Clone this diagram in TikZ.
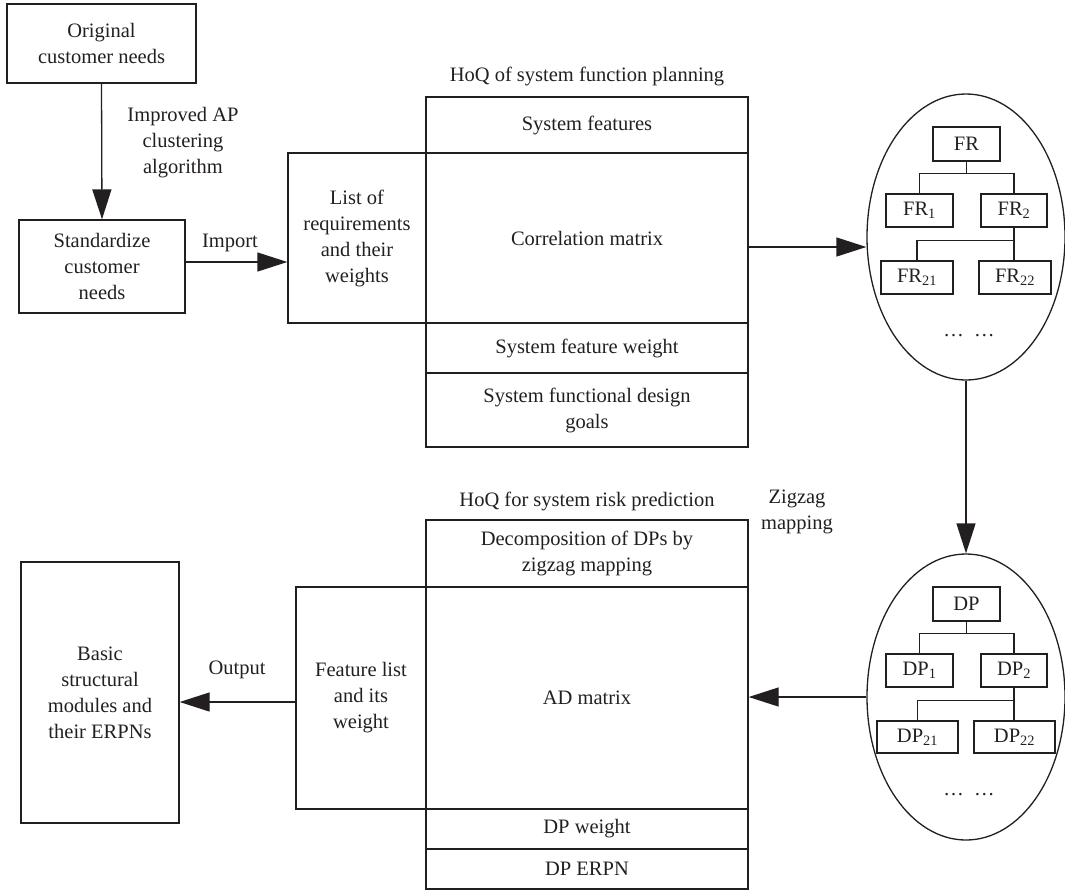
\documentclass[tikz,border=0pt]{standalone}
\usepackage{fontspec}
\setmainfont{Liberation Serif}
\usetikzlibrary{arrows.meta,shapes.geometric}
\definecolor{ink}{RGB}{35,31,32}
\begin{document}
\begin{tikzpicture}[x=1pt,y=-1pt,
  every node/.style={font=\fontsize{20.5}{26}\selectfont, text=ink},
  box/.style={draw=ink, line width=1.3pt, rectangle, align=center, inner sep=2pt},
  sbox/.style={box, minimum height=33pt},
  oval/.style={draw=ink, line width=1.3pt, ellipse, minimum width=198pt, minimum height=286pt, inner sep=0pt},
  link/.style={draw=ink, line width=1.3pt},
  arr/.style={link, -{Triangle[length=30pt,width=19pt]}},
  lbl/.style={align=center, inner sep=0pt}]
\useasboundingbox (0,0) rectangle (1065,892);

% input chain
\node[box, minimum width=189pt, minimum height=79pt] (orig) at (101.5,43.5) {Original\\customer needs};
\node[box, minimum width=166pt, minimum height=93pt] (std) at (102,266.5) {Standardize\\customer\\needs};
\node[lbl] (clu) at (183,143) {Improved AP\\clustering\\algorithm};

% HoQ of system function planning
\node[lbl] (t1) at (587,76) {HoQ of system function planning};
\node[box, minimum width=322pt, minimum height=56pt] (sf) at (587,125) {System features};
\node[box, minimum width=322pt, minimum height=170pt] (corr) at (587,238) {Correlation matrix};
\node[box, minimum width=322pt, minimum height=50pt] (sfw) at (587,348) {System feature weight};
\node[box, minimum width=322pt, minimum height=74pt] (goal) at (587,410) {System functional design\\goals};
\node[box, minimum width=138pt, minimum height=170pt] (list) at (357,238) {List of\\requirements\\and their\\weights};
\node[lbl] (imp) at (230,243) {Import};

% FR hierarchy
\node[oval] (frE) at (966,237) {};
\node[sbox, minimum width=67pt, minimum height=34pt] (fr) at (966.5,144) {FR};
\node[sbox, minimum width=67pt] (fr1) at (919.5,210.5) {FR\textsubscript{1}};
\node[sbox, minimum width=66pt] (fr2) at (1014,210.5) {FR\textsubscript{2}};
\node[sbox, minimum width=72pt] (fr21) at (917,277.5) {FR\textsubscript{21}};
\node[sbox, minimum width=72pt] (fr22) at (1015,277.5) {FR\textsubscript{22}};
\node[lbl] (frd) at (969,336) {…\ \ …};

% DP hierarchy
\node[oval] (dpE) at (966,697) {};
\node[sbox, minimum width=67pt, minimum height=34pt] (dp) at (966.5,604) {DP};
\node[sbox, minimum width=67pt] (dp1) at (919.5,670.5) {DP\textsubscript{1}};
\node[sbox, minimum width=66pt] (dp2) at (1014,670.5) {DP\textsubscript{2}};
\node[sbox, minimum width=81pt, minimum height=32pt] (dp21) at (917.5,737) {DP\textsubscript{21}};
\node[sbox, minimum width=81pt, minimum height=32pt] (dp22) at (1014.5,737) {DP\textsubscript{22}};
\node[lbl] (dpd) at (969,795) {…\ \ …};
\node[lbl] (zz) at (797,512) {Zigzag\\mapping};

% HoQ for system risk prediction
\node[lbl] (t2) at (587,501) {HoQ for system risk prediction};
\node[box, minimum width=322pt, minimum height=67pt] (dec) at (587,553.5) {Decomposition of DPs by\\zigzag mapping};
\node[box, minimum width=322pt, minimum height=222pt] (ad) at (587,698) {AD matrix};
\node[box, minimum width=322pt, minimum height=40pt] (dpw) at (587,829) {DP weight};
\node[box, minimum width=322pt, minimum height=40pt] (erpn) at (587,869) {DP ERPN};
\node[box, minimum width=130pt, minimum height=222pt] (feat) at (361,698) {Feature list\\and its\\weight};

% output
\node[box, minimum width=158pt, minimum height=261pt] (basic) at (100,692.5) {Basic\\structural\\modules and\\their ERPNs};
\node[lbl] (outl) at (237,670) {Output};

% connectors
\draw[arr] (orig.south) -- (std.north);
\coordinate (impS) at ([yshift=4.5pt]std.east);
\draw[arr] (impS) -- (impS -| list.west);
\coordinate (corrS) at ([yshift=-9pt]corr.east);
\draw[arr] (corrS) -- (corrS -| frE.west);
\draw[arr] (frE.south) -- (dpE.north);
\draw[arr] (dpE.west) -- (dpE.west -| ad.east);
\coordinate (featS) at ([yshift=-4pt]feat.west);
\draw[arr] (featS) -- (featS -| basic.east);

% tree branches
\draw[link] (fr.south) -- ++(0,12) -| (fr1.north);
\draw[link] (fr.south) ++(0,12) -| (fr2.north);
\draw[link] (fr2.south) -- ++(0,13) -| (fr21.north);
\draw[link] (fr2.south) -- (fr2.south |- fr22.north);
\draw[link] (dp.south) -- ++(0,12) -| (dp1.north);
\draw[link] (dp.south) ++(0,12) -| (dp2.north);
\draw[link] (dp2.south) -- ++(0,13) -| (dp21.north);
\draw[link] (dp2.south) -- (dp2.south |- dp22.north);
\end{tikzpicture}
\end{document}
